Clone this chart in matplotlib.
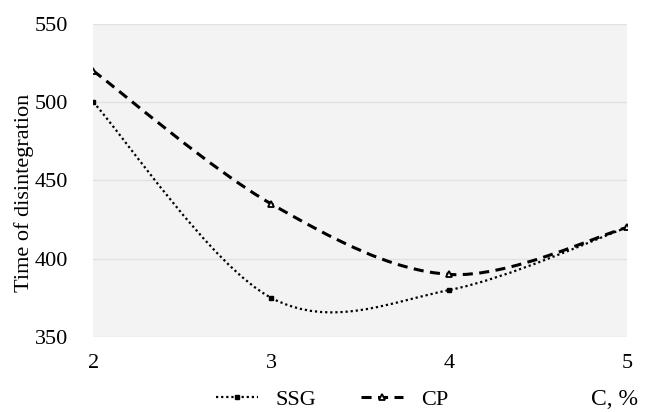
import numpy as np
import matplotlib
matplotlib.use('Agg')
import matplotlib.pyplot as plt
from matplotlib.path import Path
from matplotlib.patches import PathPatch
from matplotlib.lines import Line2D

conc = [2, 3, 4, 5]
ssg = [500, 375, 380, 420]
cp = [520, 435, 390, 420]
y_ticks = [350, 400, 450, 500, 550]

plt.rcParams['font.family'] = ['Liberation Serif', 'DejaVu Serif']

DOT = (0, (1, 1.3))
DASH = (0, (3.3, 2.1))


def smooth_path(x, y):
    # Excel-style smoothed line: cubic Bezier segments through the points
    pts = np.column_stack([x, y]).astype(float)
    n = len(pts)
    verts = [pts[0]]
    codes = [Path.MOVETO]
    for i in range(n - 1):
        p0 = pts[i - 1] if i > 0 else pts[i]
        p1 = pts[i]
        p2 = pts[i + 1]
        p3 = pts[i + 2] if i + 2 < n else pts[i + 1]
        c1 = p1 + (p2 - p0) / 6
        c2 = p2 - (p3 - p1) / 6
        verts += [c1, c2, p2]
        codes += [Path.CURVE4] * 3
    return Path(verts, codes)


fig = plt.figure(figsize=(6.48, 4.12), dpi=100)
ax = fig.add_axes([0.144, 0.182, 0.824, 0.760])
ax.set_facecolor('#f3f3f3')

ax.add_patch(PathPatch(smooth_path(conc, ssg), fill=False, lw=1.6,
                       ls=DOT, ec='black', zorder=3))
ax.add_patch(PathPatch(smooth_path(conc, cp), fill=False, lw=2.2,
                       ls=DASH, ec='black', zorder=3))
ax.plot(conc, ssg, ls='none', marker='s', ms=3.5, color='black', zorder=4)
ax.plot(conc, cp, ls='none', marker='^', ms=5, mfc='white', mec='black',
        mew=1.3, zorder=4)

ax.set_xlim(2, 5)
ax.set_ylim(350, 550)
ax.set_xticks(conc)
ax.set_yticks(y_ticks)
ax.grid(axis='y', color='#e2e2e2', lw=1)
ax.set_axisbelow(True)
for s in ax.spines.values():
    s.set_visible(False)
ax.tick_params(length=0, labelsize=16, pad=12)
ax.tick_params(axis='y', pad=18)
ax.set_ylabel('Time of disintegration', fontsize=16)
ax.yaxis.set_label_coords(-0.112, 0.46)

handles = [
    Line2D([], [], color='black', lw=1.6, ls=DOT, marker='s', ms=3.5),
    Line2D([], [], color='black', lw=2.2, ls=DASH, marker='^', ms=5,
           mfc='white', mew=1.3),
]
fig.legend(handles, ['SSG', 'CP'], loc='center', bbox_to_anchor=(0.512, 0.03),
           ncol=2, frameon=False, fontsize=16, handlelength=1.9,
           handletextpad=0.8, columnspacing=2.0)
fig.text(0.985, 0.03, 'C, %', ha='right', va='center', fontsize=17)

fig.savefig('out.png', dpi=100)
